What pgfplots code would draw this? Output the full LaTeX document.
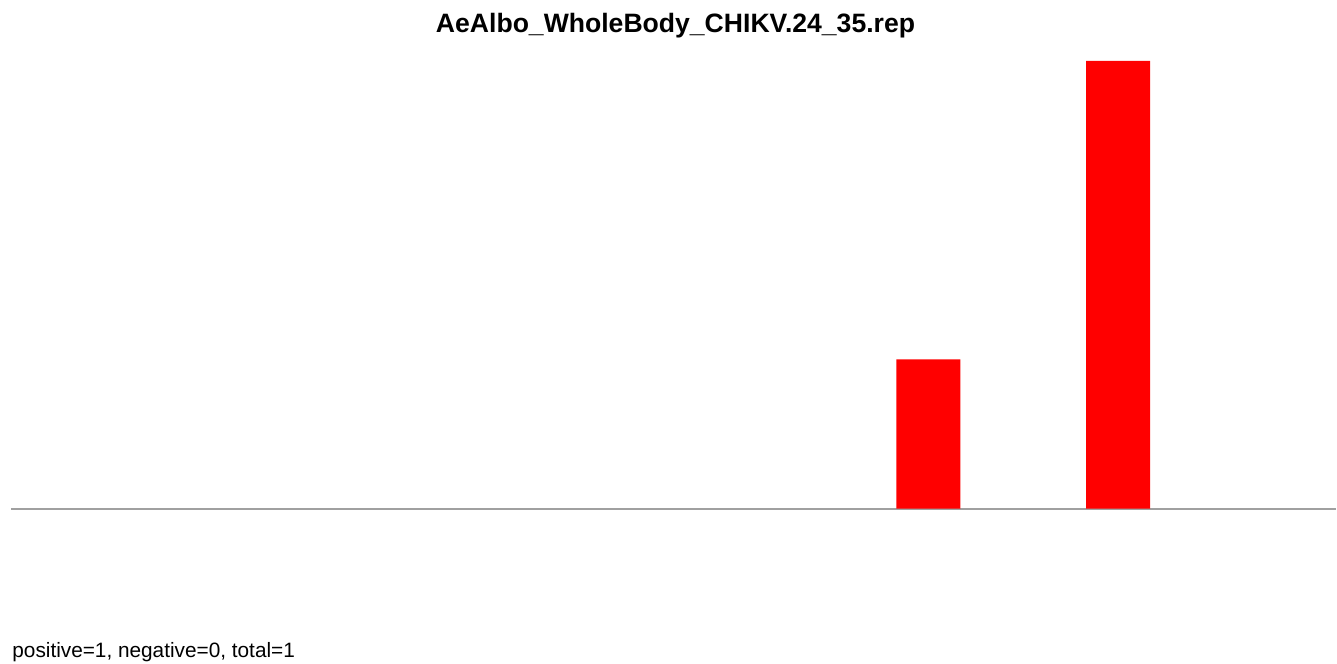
\documentclass[border=0pt]{standalone}
\usepackage{fontspec}
\setmainfont{Liberation Sans}
\usepackage{pgfplots}
\pgfplotsset{compat=1.18}
\definecolor{basegray}{HTML}{A0A0A0}
\begin{document}
\begin{tikzpicture}
  \begin{axis}[
      width=668.5pt, height=332pt, scale only axis,
      axis lines=none, clip=false,
      xmin=0, xmax=1337,
      ymin=-1.038, ymax=3.408,
      ticks=none,
    ]
    % keep the full canvas in the bounding box
    \path (rel axis cs:0,0) rectangle (rel axis cs:1,1);
    % baseline
    \addplot[basegray, line width=1pt, no marks] coordinates {(11,0) (1337,0)};
    % bars
    \addplot[ybar, fill=red, draw=none, bar width=32pt]
      coordinates {(929,1) (1119,3)};
    \node[anchor=base, font=\bfseries\fontsize{13.3pt}{15pt}\selectfont]
      at (axis cs:676,3.187) {AeAlbo\_WholeBody\_CHIKV.24\_35.rep};
    \node[anchor=base west, inner sep=0pt, font=\fontsize{10.4pt}{12pt}\selectfont]
      at (axis cs:12,-0.998) {positive=1, negative=0, total=1};
  \end{axis}
\end{tikzpicture}
\end{document}
